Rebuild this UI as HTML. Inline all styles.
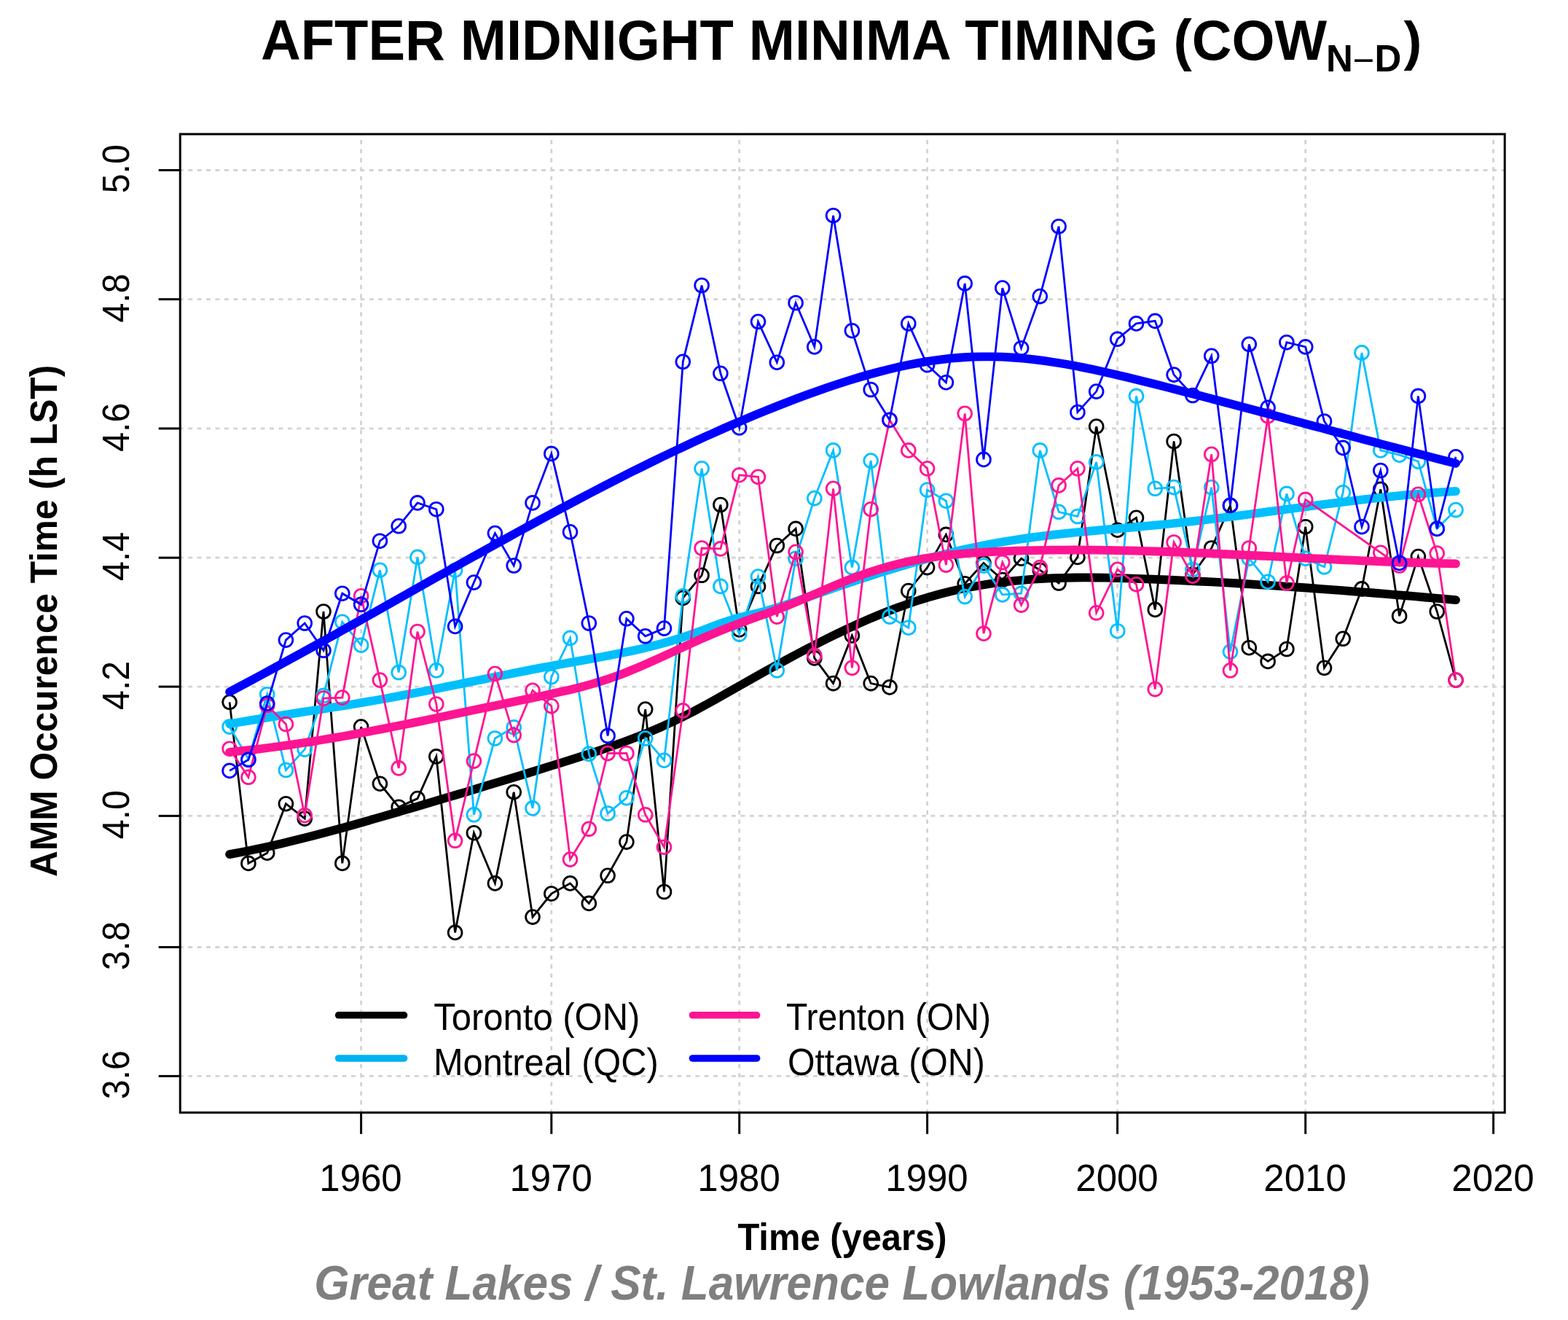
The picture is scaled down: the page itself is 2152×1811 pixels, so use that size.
<!DOCTYPE html><html><head><meta charset="utf-8"><title>After Midnight Minima Timing</title>
<style>html,body{margin:0;padding:0;background:#fff;}svg{display:block;}text{font-family:"Liberation Sans",Arial,sans-serif;}</style></head><body>
<svg width="2152" height="1811" viewBox="0 0 2152 1811">
<rect width="2152" height="1811" fill="#fff"/>
<g stroke="#d3d3d3" stroke-width="2.8" stroke-dasharray="5.9 6.53" fill="none">
<line x1="245.8" y1="1476.4" x2="2065.2" y2="1476.4"/>
<line x1="245.8" y1="1299.5" x2="2065.2" y2="1299.5"/>
<line x1="245.8" y1="1119.4" x2="2065.2" y2="1119.4"/>
<line x1="245.8" y1="942.1" x2="2065.2" y2="942.1"/>
<line x1="245.8" y1="765.2" x2="2065.2" y2="765.2"/>
<line x1="245.8" y1="587.9" x2="2065.2" y2="587.9"/>
<line x1="245.8" y1="410.6" x2="2065.2" y2="410.6"/>
<line x1="245.8" y1="233.5" x2="2065.2" y2="233.5"/>
<line x1="495.6" y1="1527.9" x2="495.6" y2="184.0"/>
<line x1="756.8" y1="1527.9" x2="756.8" y2="184.0"/>
<line x1="1014.7" y1="1527.9" x2="1014.7" y2="184.0"/>
<line x1="1272.6" y1="1527.9" x2="1272.6" y2="184.0"/>
<line x1="1533.6" y1="1527.9" x2="1533.6" y2="184.0"/>
<line x1="1791.7" y1="1527.9" x2="1791.7" y2="184.0"/>
<line x1="2049.6" y1="1527.9" x2="2049.6" y2="184.0"/>
</g>
<g stroke="#000000" stroke-width="2.8" fill="none">
<polyline points="315.1,963.3 340.9,1184.4 366.7,1170.2 392.4,1102.7 418.2,1123.1 444.0,839.0 469.8,1184.4 495.6,997.1 521.4,1075.2 547.2,1107.2 573.0,1095.6 598.8,1037.9 624.6,1279.4 650.4,1142.7 679.4,1211.9 705.2,1086.7 731.0,1258.1 756.8,1226.1 782.5,1211.9 808.3,1239.4 834.1,1201.3 859.9,1155.1 885.7,973.1 911.5,1223.5 937.3,820.4 963.1,789.3 988.9,692.5 1014.7,863.9 1040.5,804.4 1066.3,748.5 1092.1,725.4 1117.8,902.9 1143.6,937.6 1169.4,871.9 1195.2,937.6 1221.0,942.9 1246.8,810.6 1272.6,778.6 1298.4,733.4 1324.2,800.8 1350.0,772.4 1375.8,795.5 1401.6,766.2 1427.3,782.2 1453.1,800.0 1478.9,764.4 1504.7,585.1 1533.7,727.2 1559.5,710.3 1585.3,836.4 1611.1,605.5 1636.9,788.4 1662.7,752.0 1688.5,693.4 1714.3,888.7 1740.1,907.4 1765.9,890.5 1791.7,722.7 1817.5,916.3 1843.2,876.3 1869.0,807.9 1894.8,671.2 1920.6,845.2 1946.4,763.6 1972.2,839.0 1998.0,933.1"/>
<circle cx="315.1" cy="963.3" r="9.4"/>
<circle cx="340.9" cy="1184.4" r="9.4"/>
<circle cx="366.7" cy="1170.2" r="9.4"/>
<circle cx="392.4" cy="1102.7" r="9.4"/>
<circle cx="418.2" cy="1123.1" r="9.4"/>
<circle cx="444.0" cy="839.0" r="9.4"/>
<circle cx="469.8" cy="1184.4" r="9.4"/>
<circle cx="495.6" cy="997.1" r="9.4"/>
<circle cx="521.4" cy="1075.2" r="9.4"/>
<circle cx="547.2" cy="1107.2" r="9.4"/>
<circle cx="573.0" cy="1095.6" r="9.4"/>
<circle cx="598.8" cy="1037.9" r="9.4"/>
<circle cx="624.6" cy="1279.4" r="9.4"/>
<circle cx="650.4" cy="1142.7" r="9.4"/>
<circle cx="679.4" cy="1211.9" r="9.4"/>
<circle cx="705.2" cy="1086.7" r="9.4"/>
<circle cx="731.0" cy="1258.1" r="9.4"/>
<circle cx="756.8" cy="1226.1" r="9.4"/>
<circle cx="782.5" cy="1211.9" r="9.4"/>
<circle cx="808.3" cy="1239.4" r="9.4"/>
<circle cx="834.1" cy="1201.3" r="9.4"/>
<circle cx="859.9" cy="1155.1" r="9.4"/>
<circle cx="885.7" cy="973.1" r="9.4"/>
<circle cx="911.5" cy="1223.5" r="9.4"/>
<circle cx="937.3" cy="820.4" r="9.4"/>
<circle cx="963.1" cy="789.3" r="9.4"/>
<circle cx="988.9" cy="692.5" r="9.4"/>
<circle cx="1014.7" cy="863.9" r="9.4"/>
<circle cx="1040.5" cy="804.4" r="9.4"/>
<circle cx="1066.3" cy="748.5" r="9.4"/>
<circle cx="1092.1" cy="725.4" r="9.4"/>
<circle cx="1117.8" cy="902.9" r="9.4"/>
<circle cx="1143.6" cy="937.6" r="9.4"/>
<circle cx="1169.4" cy="871.9" r="9.4"/>
<circle cx="1195.2" cy="937.6" r="9.4"/>
<circle cx="1221.0" cy="942.9" r="9.4"/>
<circle cx="1246.8" cy="810.6" r="9.4"/>
<circle cx="1272.6" cy="778.6" r="9.4"/>
<circle cx="1298.4" cy="733.4" r="9.4"/>
<circle cx="1324.2" cy="800.8" r="9.4"/>
<circle cx="1350.0" cy="772.4" r="9.4"/>
<circle cx="1375.8" cy="795.5" r="9.4"/>
<circle cx="1401.6" cy="766.2" r="9.4"/>
<circle cx="1427.3" cy="782.2" r="9.4"/>
<circle cx="1453.1" cy="800.0" r="9.4"/>
<circle cx="1478.9" cy="764.4" r="9.4"/>
<circle cx="1504.7" cy="585.1" r="9.4"/>
<circle cx="1533.7" cy="727.2" r="9.4"/>
<circle cx="1559.5" cy="710.3" r="9.4"/>
<circle cx="1585.3" cy="836.4" r="9.4"/>
<circle cx="1611.1" cy="605.5" r="9.4"/>
<circle cx="1636.9" cy="788.4" r="9.4"/>
<circle cx="1662.7" cy="752.0" r="9.4"/>
<circle cx="1688.5" cy="693.4" r="9.4"/>
<circle cx="1714.3" cy="888.7" r="9.4"/>
<circle cx="1740.1" cy="907.4" r="9.4"/>
<circle cx="1765.9" cy="890.5" r="9.4"/>
<circle cx="1791.7" cy="722.7" r="9.4"/>
<circle cx="1817.5" cy="916.3" r="9.4"/>
<circle cx="1843.2" cy="876.3" r="9.4"/>
<circle cx="1869.0" cy="807.9" r="9.4"/>
<circle cx="1894.8" cy="671.2" r="9.4"/>
<circle cx="1920.6" cy="845.2" r="9.4"/>
<circle cx="1946.4" cy="763.6" r="9.4"/>
<circle cx="1972.2" cy="839.0" r="9.4"/>
<circle cx="1998.0" cy="933.1" r="9.4"/>
</g>
<path d="M315.1,1172.1 L329.2,1169.5 L343.4,1166.7 L357.5,1163.8 L371.6,1160.7 L385.8,1157.5 L399.9,1154.1 L414.1,1150.6 L428.2,1147.0 L442.3,1143.3 L456.5,1139.5 L470.6,1135.7 L484.8,1131.8 L498.9,1127.8 L513.1,1123.7 L527.2,1119.6 L541.3,1115.5 L555.5,1111.4 L569.6,1107.3 L583.8,1103.1 L597.9,1098.9 L612.1,1094.7 L626.2,1090.5 L640.3,1086.3 L654.5,1082.0 L668.6,1077.7 L682.8,1073.4 L696.9,1069.1 L711.1,1064.8 L725.2,1060.5 L739.3,1056.1 L753.5,1051.7 L767.6,1047.3 L781.8,1042.9 L795.9,1038.4 L810.0,1033.9 L824.2,1029.2 L838.3,1024.3 L852.5,1019.3 L866.6,1014.0 L880.8,1008.5 L894.9,1002.7 L909.0,996.7 L923.2,990.2 L937.3,983.4 L951.5,976.2 L965.6,968.6 L979.8,960.8 L993.9,952.8 L1008.0,944.8 L1022.2,936.8 L1036.3,928.8 L1050.5,920.9 L1064.6,913.1 L1078.7,905.5 L1092.9,897.9 L1107.0,890.4 L1121.2,883.2 L1135.3,876.1 L1149.5,869.1 L1163.6,862.4 L1177.7,855.9 L1191.9,849.7 L1206.0,843.8 L1220.2,838.1 L1234.3,832.7 L1248.5,827.7 L1262.6,823.0 L1276.7,818.7 L1290.9,814.8 L1305.0,811.2 L1319.2,808.0 L1333.3,805.2 L1347.5,802.7 L1361.6,800.5 L1375.7,798.7 L1389.9,797.1 L1404.0,795.8 L1418.2,794.7 L1432.3,793.8 L1446.4,793.2 L1460.6,792.8 L1474.7,792.5 L1488.9,792.4 L1503.0,792.5 L1517.2,792.7 L1531.3,793.0 L1545.4,793.3 L1559.6,793.8 L1573.7,794.3 L1587.9,794.9 L1602.0,795.5 L1616.2,796.1 L1630.3,796.8 L1644.4,797.5 L1658.6,798.2 L1672.7,798.9 L1686.9,799.7 L1701.0,800.5 L1715.2,801.4 L1729.3,802.3 L1743.4,803.2 L1757.6,804.1 L1771.7,805.1 L1785.9,806.0 L1800.0,807.0 L1814.1,808.1 L1828.3,809.1 L1842.4,810.2 L1856.6,811.3 L1870.7,812.4 L1884.9,813.5 L1899.0,814.7 L1913.1,815.9 L1927.3,817.0 L1941.4,818.2 L1955.6,819.5 L1969.7,820.7 L1983.9,821.9 L1998.0,823.2" stroke="#000000" stroke-width="11.8" fill="none" stroke-linecap="round" stroke-linejoin="round"/>
<g stroke="#00bfff" stroke-width="2.8" fill="none">
<polyline points="315.1,997.1 340.9,1041.5 366.7,952.7 392.4,1056.5 418.2,1028.1 444.0,954.4 469.8,853.2 495.6,885.2 521.4,782.2 547.2,922.5 573.0,764.4 598.8,919.8 624.6,782.2 650.4,1117.8 679.4,1013.0 705.2,997.9 731.0,1108.9 756.8,928.7 782.5,875.4 808.3,1034.3 834.1,1116.0 859.9,1094.7 885.7,1013.0 911.5,1043.2 937.3,817.7 963.1,642.8 988.9,804.4 1014.7,870.1 1040.5,791.1 1066.3,919.8 1092.1,766.2 1117.8,683.6 1143.6,617.9 1169.4,778.6 1195.2,632.1 1221.0,846.1 1246.8,861.2 1272.6,672.1 1298.4,687.2 1324.2,818.6 1350.0,776.0 1375.8,815.9 1401.6,814.2 1427.3,617.9 1453.1,702.3 1478.9,708.5 1504.7,633.9 1533.7,865.7 1559.5,543.4 1585.3,670.3 1611.1,668.6 1636.9,781.3 1662.7,668.6 1688.5,894.1 1714.3,766.2 1740.1,798.2 1765.9,677.4 1791.7,766.2 1817.5,777.8 1843.2,675.7 1869.0,483.9 1894.8,617.9 1920.6,624.2 1946.4,633.0 1972.2,725.4 1998.0,699.6"/>
<circle cx="315.1" cy="997.1" r="9.4"/>
<circle cx="340.9" cy="1041.5" r="9.4"/>
<circle cx="366.7" cy="952.7" r="9.4"/>
<circle cx="392.4" cy="1056.5" r="9.4"/>
<circle cx="418.2" cy="1028.1" r="9.4"/>
<circle cx="444.0" cy="954.4" r="9.4"/>
<circle cx="469.8" cy="853.2" r="9.4"/>
<circle cx="495.6" cy="885.2" r="9.4"/>
<circle cx="521.4" cy="782.2" r="9.4"/>
<circle cx="547.2" cy="922.5" r="9.4"/>
<circle cx="573.0" cy="764.4" r="9.4"/>
<circle cx="598.8" cy="919.8" r="9.4"/>
<circle cx="624.6" cy="782.2" r="9.4"/>
<circle cx="650.4" cy="1117.8" r="9.4"/>
<circle cx="679.4" cy="1013.0" r="9.4"/>
<circle cx="705.2" cy="997.9" r="9.4"/>
<circle cx="731.0" cy="1108.9" r="9.4"/>
<circle cx="756.8" cy="928.7" r="9.4"/>
<circle cx="782.5" cy="875.4" r="9.4"/>
<circle cx="808.3" cy="1034.3" r="9.4"/>
<circle cx="834.1" cy="1116.0" r="9.4"/>
<circle cx="859.9" cy="1094.7" r="9.4"/>
<circle cx="885.7" cy="1013.0" r="9.4"/>
<circle cx="911.5" cy="1043.2" r="9.4"/>
<circle cx="937.3" cy="817.7" r="9.4"/>
<circle cx="963.1" cy="642.8" r="9.4"/>
<circle cx="988.9" cy="804.4" r="9.4"/>
<circle cx="1014.7" cy="870.1" r="9.4"/>
<circle cx="1040.5" cy="791.1" r="9.4"/>
<circle cx="1066.3" cy="919.8" r="9.4"/>
<circle cx="1092.1" cy="766.2" r="9.4"/>
<circle cx="1117.8" cy="683.6" r="9.4"/>
<circle cx="1143.6" cy="617.9" r="9.4"/>
<circle cx="1169.4" cy="778.6" r="9.4"/>
<circle cx="1195.2" cy="632.1" r="9.4"/>
<circle cx="1221.0" cy="846.1" r="9.4"/>
<circle cx="1246.8" cy="861.2" r="9.4"/>
<circle cx="1272.6" cy="672.1" r="9.4"/>
<circle cx="1298.4" cy="687.2" r="9.4"/>
<circle cx="1324.2" cy="818.6" r="9.4"/>
<circle cx="1350.0" cy="776.0" r="9.4"/>
<circle cx="1375.8" cy="815.9" r="9.4"/>
<circle cx="1401.6" cy="814.2" r="9.4"/>
<circle cx="1427.3" cy="617.9" r="9.4"/>
<circle cx="1453.1" cy="702.3" r="9.4"/>
<circle cx="1478.9" cy="708.5" r="9.4"/>
<circle cx="1504.7" cy="633.9" r="9.4"/>
<circle cx="1533.7" cy="865.7" r="9.4"/>
<circle cx="1559.5" cy="543.4" r="9.4"/>
<circle cx="1585.3" cy="670.3" r="9.4"/>
<circle cx="1611.1" cy="668.6" r="9.4"/>
<circle cx="1636.9" cy="781.3" r="9.4"/>
<circle cx="1662.7" cy="668.6" r="9.4"/>
<circle cx="1688.5" cy="894.1" r="9.4"/>
<circle cx="1714.3" cy="766.2" r="9.4"/>
<circle cx="1740.1" cy="798.2" r="9.4"/>
<circle cx="1765.9" cy="677.4" r="9.4"/>
<circle cx="1791.7" cy="766.2" r="9.4"/>
<circle cx="1817.5" cy="777.8" r="9.4"/>
<circle cx="1843.2" cy="675.7" r="9.4"/>
<circle cx="1869.0" cy="483.9" r="9.4"/>
<circle cx="1894.8" cy="617.9" r="9.4"/>
<circle cx="1920.6" cy="624.2" r="9.4"/>
<circle cx="1946.4" cy="633.0" r="9.4"/>
<circle cx="1972.2" cy="725.4" r="9.4"/>
<circle cx="1998.0" cy="699.6" r="9.4"/>
</g>
<path d="M315.1,993.3 L329.2,990.8 L343.4,988.4 L357.5,986.1 L371.6,983.8 L385.8,981.6 L399.9,979.4 L414.1,977.2 L428.2,975.0 L442.3,972.8 L456.5,970.5 L470.6,968.3 L484.8,966.0 L498.9,963.6 L513.1,961.2 L527.2,958.7 L541.3,956.1 L555.5,953.4 L569.6,950.7 L583.8,948.0 L597.9,945.2 L612.1,942.3 L626.2,939.5 L640.3,936.6 L654.5,933.7 L668.6,930.9 L682.8,928.0 L696.9,925.2 L711.1,922.4 L725.2,919.6 L739.3,916.9 L753.5,914.3 L767.6,911.7 L781.8,909.1 L795.9,906.6 L810.0,904.1 L824.2,901.5 L838.3,898.8 L852.5,896.0 L866.6,893.1 L880.8,889.9 L894.9,886.4 L909.0,882.7 L923.2,878.7 L937.3,874.3 L951.5,869.4 L965.6,864.2 L979.8,858.7 L993.9,853.5 L1008.0,849.0 L1022.2,845.4 L1036.3,842.0 L1050.5,838.4 L1064.6,834.2 L1078.7,829.7 L1092.9,824.9 L1107.0,819.9 L1121.2,814.9 L1135.3,809.9 L1149.5,805.0 L1163.6,800.2 L1177.7,795.4 L1191.9,790.8 L1206.0,786.2 L1220.2,781.8 L1234.3,777.5 L1248.5,773.3 L1262.6,769.3 L1276.7,765.4 L1290.9,761.7 L1305.0,758.2 L1319.2,754.8 L1333.3,751.7 L1347.5,748.7 L1361.6,746.0 L1375.7,743.5 L1389.9,741.2 L1404.0,739.1 L1418.2,737.2 L1432.3,735.4 L1446.4,733.7 L1460.6,732.2 L1474.7,730.7 L1488.9,729.3 L1503.0,728.0 L1517.2,726.7 L1531.3,725.5 L1545.4,724.3 L1559.6,723.0 L1573.7,721.7 L1587.9,720.4 L1602.0,719.0 L1616.2,717.5 L1630.3,715.9 L1644.4,714.3 L1658.6,712.6 L1672.7,710.9 L1686.9,709.1 L1701.0,707.3 L1715.2,705.5 L1729.3,703.6 L1743.4,701.7 L1757.6,699.8 L1771.7,698.0 L1785.9,696.1 L1800.0,694.2 L1814.1,692.4 L1828.3,690.6 L1842.4,688.8 L1856.6,687.1 L1870.7,685.4 L1884.9,683.8 L1899.0,682.2 L1913.1,680.8 L1927.3,679.4 L1941.4,678.1 L1955.6,676.9 L1969.7,675.8 L1983.9,674.8 L1998.0,674.0" stroke="#00bfff" stroke-width="11.8" fill="none" stroke-linecap="round" stroke-linejoin="round"/>
<g stroke="#ff1493" stroke-width="2.8" fill="none">
<polyline points="315.1,1027.2 340.9,1066.3 366.7,967.8 392.4,993.5 418.2,1118.7 444.0,958.0 469.8,957.1 495.6,817.7 521.4,933.1 547.2,1053.9 573.0,866.5 598.8,966.0 624.6,1153.3 650.4,1044.1 679.4,924.3 705.2,1008.6 731.0,947.3 756.8,968.6 782.5,1179.1 808.3,1137.3 834.1,1033.5 859.9,1033.5 885.7,1117.8 911.5,1162.2 937.3,974.9 963.1,752.0 988.9,752.9 1014.7,651.7 1040.5,654.3 1066.3,846.1 1092.1,757.3 1117.8,899.4 1143.6,670.3 1169.4,916.3 1195.2,698.7 1221.0,576.2 1246.8,617.9 1272.6,642.8 1298.4,775.1 1324.2,567.3 1350.0,869.2 1375.8,771.5 1401.6,830.1 1427.3,778.6 1453.1,665.9 1478.9,642.8 1504.7,840.8 1533.7,781.3 1559.5,801.7 1585.3,945.6 1611.1,744.0 1636.9,790.2 1662.7,623.3 1688.5,919.8 1714.3,752.0 1740.1,570.9 1765.9,800.0 1791.7,685.4 1894.8,758.2 1920.6,776.0 1946.4,678.3 1972.2,759.1 1998.0,933.1"/>
<circle cx="315.1" cy="1027.2" r="9.4"/>
<circle cx="340.9" cy="1066.3" r="9.4"/>
<circle cx="366.7" cy="967.8" r="9.4"/>
<circle cx="392.4" cy="993.5" r="9.4"/>
<circle cx="418.2" cy="1118.7" r="9.4"/>
<circle cx="444.0" cy="958.0" r="9.4"/>
<circle cx="469.8" cy="957.1" r="9.4"/>
<circle cx="495.6" cy="817.7" r="9.4"/>
<circle cx="521.4" cy="933.1" r="9.4"/>
<circle cx="547.2" cy="1053.9" r="9.4"/>
<circle cx="573.0" cy="866.5" r="9.4"/>
<circle cx="598.8" cy="966.0" r="9.4"/>
<circle cx="624.6" cy="1153.3" r="9.4"/>
<circle cx="650.4" cy="1044.1" r="9.4"/>
<circle cx="679.4" cy="924.3" r="9.4"/>
<circle cx="705.2" cy="1008.6" r="9.4"/>
<circle cx="731.0" cy="947.3" r="9.4"/>
<circle cx="756.8" cy="968.6" r="9.4"/>
<circle cx="782.5" cy="1179.1" r="9.4"/>
<circle cx="808.3" cy="1137.3" r="9.4"/>
<circle cx="834.1" cy="1033.5" r="9.4"/>
<circle cx="859.9" cy="1033.5" r="9.4"/>
<circle cx="885.7" cy="1117.8" r="9.4"/>
<circle cx="911.5" cy="1162.2" r="9.4"/>
<circle cx="937.3" cy="974.9" r="9.4"/>
<circle cx="963.1" cy="752.0" r="9.4"/>
<circle cx="988.9" cy="752.9" r="9.4"/>
<circle cx="1014.7" cy="651.7" r="9.4"/>
<circle cx="1040.5" cy="654.3" r="9.4"/>
<circle cx="1066.3" cy="846.1" r="9.4"/>
<circle cx="1092.1" cy="757.3" r="9.4"/>
<circle cx="1117.8" cy="899.4" r="9.4"/>
<circle cx="1143.6" cy="670.3" r="9.4"/>
<circle cx="1169.4" cy="916.3" r="9.4"/>
<circle cx="1195.2" cy="698.7" r="9.4"/>
<circle cx="1221.0" cy="576.2" r="9.4"/>
<circle cx="1246.8" cy="617.9" r="9.4"/>
<circle cx="1272.6" cy="642.8" r="9.4"/>
<circle cx="1298.4" cy="775.1" r="9.4"/>
<circle cx="1324.2" cy="567.3" r="9.4"/>
<circle cx="1350.0" cy="869.2" r="9.4"/>
<circle cx="1375.8" cy="771.5" r="9.4"/>
<circle cx="1401.6" cy="830.1" r="9.4"/>
<circle cx="1427.3" cy="778.6" r="9.4"/>
<circle cx="1453.1" cy="665.9" r="9.4"/>
<circle cx="1478.9" cy="642.8" r="9.4"/>
<circle cx="1504.7" cy="840.8" r="9.4"/>
<circle cx="1533.7" cy="781.3" r="9.4"/>
<circle cx="1559.5" cy="801.7" r="9.4"/>
<circle cx="1585.3" cy="945.6" r="9.4"/>
<circle cx="1611.1" cy="744.0" r="9.4"/>
<circle cx="1636.9" cy="790.2" r="9.4"/>
<circle cx="1662.7" cy="623.3" r="9.4"/>
<circle cx="1688.5" cy="919.8" r="9.4"/>
<circle cx="1714.3" cy="752.0" r="9.4"/>
<circle cx="1740.1" cy="570.9" r="9.4"/>
<circle cx="1765.9" cy="800.0" r="9.4"/>
<circle cx="1791.7" cy="685.4" r="9.4"/>
<circle cx="1894.8" cy="758.2" r="9.4"/>
<circle cx="1920.6" cy="776.0" r="9.4"/>
<circle cx="1946.4" cy="678.3" r="9.4"/>
<circle cx="1972.2" cy="759.1" r="9.4"/>
<circle cx="1998.0" cy="933.1" r="9.4"/>
</g>
<path d="M315.1,1031.8 L329.2,1030.4 L343.4,1028.9 L357.5,1027.3 L371.6,1025.5 L385.8,1023.6 L399.9,1021.6 L414.1,1019.5 L428.2,1017.3 L442.3,1015.0 L456.5,1012.6 L470.6,1010.2 L484.8,1007.6 L498.9,1005.0 L513.1,1002.3 L527.2,999.6 L541.3,996.8 L555.5,994.0 L569.6,991.1 L583.8,988.2 L597.9,985.2 L612.1,982.3 L626.2,979.3 L640.3,976.3 L654.5,973.3 L668.6,970.4 L682.8,967.4 L696.9,964.4 L711.1,961.5 L725.2,958.6 L739.3,955.7 L753.5,952.7 L767.6,949.6 L781.8,946.4 L795.9,942.9 L810.0,939.1 L824.2,934.9 L838.3,930.3 L852.5,925.2 L866.6,919.6 L880.8,913.6 L894.9,907.4 L909.0,901.0 L923.2,894.5 L937.3,888.0 L951.5,881.5 L965.6,875.2 L979.8,869.1 L993.9,863.3 L1008.0,857.7 L1022.2,852.4 L1036.3,847.3 L1050.5,842.2 L1064.6,837.0 L1078.7,831.7 L1092.9,825.9 L1107.0,819.9 L1121.2,813.8 L1135.3,807.6 L1149.5,801.6 L1163.6,795.9 L1177.7,790.5 L1191.9,785.6 L1206.0,781.1 L1220.2,777.0 L1234.3,773.3 L1248.5,770.1 L1262.6,767.3 L1276.7,765.0 L1290.9,762.9 L1305.0,761.2 L1319.2,759.8 L1333.3,758.7 L1347.5,757.8 L1361.6,757.0 L1375.7,756.4 L1389.9,755.9 L1404.0,755.4 L1418.2,755.1 L1432.3,754.8 L1446.4,754.7 L1460.6,754.6 L1474.7,754.5 L1488.9,754.6 L1503.0,754.7 L1517.2,754.8 L1531.3,755.1 L1545.4,755.4 L1559.6,755.7 L1573.7,756.1 L1587.9,756.5 L1602.0,757.0 L1616.2,757.5 L1630.3,758.0 L1644.4,758.6 L1658.6,759.2 L1672.7,759.8 L1686.9,760.5 L1701.0,761.2 L1715.2,761.8 L1729.3,762.5 L1743.4,763.2 L1757.6,763.9 L1771.7,764.6 L1785.9,765.4 L1800.0,766.1 L1814.1,766.7 L1828.3,767.4 L1842.4,768.1 L1856.6,768.7 L1870.7,769.3 L1884.9,769.9 L1899.0,770.5 L1913.1,771.0 L1927.3,771.5 L1941.4,772.0 L1955.6,772.4 L1969.7,772.8 L1983.9,773.1 L1998.0,773.4" stroke="#ff1493" stroke-width="11.8" fill="none" stroke-linecap="round" stroke-linejoin="round"/>
<g stroke="#0000ff" stroke-width="2.8" fill="none">
<polyline points="315.1,1057.4 340.9,1042.3 366.7,965.1 392.4,878.1 418.2,855.0 444.0,892.3 469.8,814.2 495.6,829.3 521.4,742.2 547.2,721.8 573.0,689.9 598.8,698.7 624.6,859.4 650.4,799.1 679.4,731.6 705.2,776.0 731.0,689.9 756.8,622.4 782.5,729.8 808.3,855.0 834.1,1009.5 859.9,848.8 885.7,872.8 911.5,862.1 937.3,496.3 963.1,391.5 988.9,512.3 1014.7,586.9 1040.5,441.3 1066.3,497.2 1092.1,415.5 1117.8,475.9 1143.6,295.7 1169.4,453.7 1195.2,534.5 1221.0,576.2 1246.8,443.9 1272.6,500.7 1298.4,524.7 1324.2,388.9 1350.0,630.4 1375.8,395.1 1401.6,477.7 1427.3,406.6 1453.1,310.7 1478.9,565.6 1504.7,537.1 1533.7,465.2 1559.5,443.9 1585.3,440.4 1611.1,514.1 1636.9,542.5 1662.7,488.3 1688.5,693.4 1714.3,472.3 1740.1,559.3 1765.9,469.7 1791.7,475.9 1817.5,578.0 1843.2,614.4 1869.0,722.7 1894.8,645.5 1920.6,772.4 1946.4,543.4 1972.2,725.4 1998.0,626.8"/>
<circle cx="315.1" cy="1057.4" r="9.4"/>
<circle cx="340.9" cy="1042.3" r="9.4"/>
<circle cx="366.7" cy="965.1" r="9.4"/>
<circle cx="392.4" cy="878.1" r="9.4"/>
<circle cx="418.2" cy="855.0" r="9.4"/>
<circle cx="444.0" cy="892.3" r="9.4"/>
<circle cx="469.8" cy="814.2" r="9.4"/>
<circle cx="495.6" cy="829.3" r="9.4"/>
<circle cx="521.4" cy="742.2" r="9.4"/>
<circle cx="547.2" cy="721.8" r="9.4"/>
<circle cx="573.0" cy="689.9" r="9.4"/>
<circle cx="598.8" cy="698.7" r="9.4"/>
<circle cx="624.6" cy="859.4" r="9.4"/>
<circle cx="650.4" cy="799.1" r="9.4"/>
<circle cx="679.4" cy="731.6" r="9.4"/>
<circle cx="705.2" cy="776.0" r="9.4"/>
<circle cx="731.0" cy="689.9" r="9.4"/>
<circle cx="756.8" cy="622.4" r="9.4"/>
<circle cx="782.5" cy="729.8" r="9.4"/>
<circle cx="808.3" cy="855.0" r="9.4"/>
<circle cx="834.1" cy="1009.5" r="9.4"/>
<circle cx="859.9" cy="848.8" r="9.4"/>
<circle cx="885.7" cy="872.8" r="9.4"/>
<circle cx="911.5" cy="862.1" r="9.4"/>
<circle cx="937.3" cy="496.3" r="9.4"/>
<circle cx="963.1" cy="391.5" r="9.4"/>
<circle cx="988.9" cy="512.3" r="9.4"/>
<circle cx="1014.7" cy="586.9" r="9.4"/>
<circle cx="1040.5" cy="441.3" r="9.4"/>
<circle cx="1066.3" cy="497.2" r="9.4"/>
<circle cx="1092.1" cy="415.5" r="9.4"/>
<circle cx="1117.8" cy="475.9" r="9.4"/>
<circle cx="1143.6" cy="295.7" r="9.4"/>
<circle cx="1169.4" cy="453.7" r="9.4"/>
<circle cx="1195.2" cy="534.5" r="9.4"/>
<circle cx="1221.0" cy="576.2" r="9.4"/>
<circle cx="1246.8" cy="443.9" r="9.4"/>
<circle cx="1272.6" cy="500.7" r="9.4"/>
<circle cx="1298.4" cy="524.7" r="9.4"/>
<circle cx="1324.2" cy="388.9" r="9.4"/>
<circle cx="1350.0" cy="630.4" r="9.4"/>
<circle cx="1375.8" cy="395.1" r="9.4"/>
<circle cx="1401.6" cy="477.7" r="9.4"/>
<circle cx="1427.3" cy="406.6" r="9.4"/>
<circle cx="1453.1" cy="310.7" r="9.4"/>
<circle cx="1478.9" cy="565.6" r="9.4"/>
<circle cx="1504.7" cy="537.1" r="9.4"/>
<circle cx="1533.7" cy="465.2" r="9.4"/>
<circle cx="1559.5" cy="443.9" r="9.4"/>
<circle cx="1585.3" cy="440.4" r="9.4"/>
<circle cx="1611.1" cy="514.1" r="9.4"/>
<circle cx="1636.9" cy="542.5" r="9.4"/>
<circle cx="1662.7" cy="488.3" r="9.4"/>
<circle cx="1688.5" cy="693.4" r="9.4"/>
<circle cx="1714.3" cy="472.3" r="9.4"/>
<circle cx="1740.1" cy="559.3" r="9.4"/>
<circle cx="1765.9" cy="469.7" r="9.4"/>
<circle cx="1791.7" cy="475.9" r="9.4"/>
<circle cx="1817.5" cy="578.0" r="9.4"/>
<circle cx="1843.2" cy="614.4" r="9.4"/>
<circle cx="1869.0" cy="722.7" r="9.4"/>
<circle cx="1894.8" cy="645.5" r="9.4"/>
<circle cx="1920.6" cy="772.4" r="9.4"/>
<circle cx="1946.4" cy="543.4" r="9.4"/>
<circle cx="1972.2" cy="725.4" r="9.4"/>
<circle cx="1998.0" cy="626.8" r="9.4"/>
</g>
<path d="M315.1,949.2 L329.2,941.7 L343.4,934.2 L357.5,926.6 L371.6,919.0 L385.8,911.3 L399.9,903.5 L414.1,895.8 L428.2,888.0 L442.3,880.1 L456.5,872.3 L470.6,864.4 L484.8,856.5 L498.9,848.5 L513.1,840.6 L527.2,832.6 L541.3,824.6 L555.5,816.7 L569.6,808.7 L583.8,800.7 L597.9,792.7 L612.1,784.8 L626.2,776.8 L640.3,768.9 L654.5,761.0 L668.6,753.1 L682.8,745.3 L696.9,737.5 L711.1,729.7 L725.2,722.0 L739.3,714.3 L753.5,706.6 L767.6,699.0 L781.8,691.5 L795.9,684.0 L810.0,676.6 L824.2,669.3 L838.3,662.0 L852.5,654.8 L866.6,647.6 L880.8,640.6 L894.9,633.6 L909.0,626.7 L923.2,620.0 L937.3,613.3 L951.5,606.7 L965.6,600.2 L979.8,593.8 L993.9,587.5 L1008.0,581.4 L1022.2,575.4 L1036.3,569.4 L1050.5,563.6 L1064.6,558.0 L1078.7,552.5 L1092.9,547.1 L1107.0,541.8 L1121.2,536.7 L1135.3,531.8 L1149.5,527.0 L1163.6,522.5 L1177.7,518.1 L1191.9,514.0 L1206.0,510.2 L1220.2,506.6 L1234.3,503.3 L1248.5,500.3 L1262.6,497.6 L1276.7,495.3 L1290.9,493.3 L1305.0,491.7 L1319.2,490.5 L1333.3,489.6 L1347.5,489.3 L1361.6,489.3 L1375.7,489.7 L1389.9,490.5 L1404.0,491.7 L1418.2,493.1 L1432.3,494.9 L1446.4,497.0 L1460.6,499.3 L1474.7,501.8 L1488.9,504.6 L1503.0,507.6 L1517.2,510.7 L1531.3,513.9 L1545.4,517.3 L1559.6,520.7 L1573.7,524.2 L1587.9,527.8 L1602.0,531.4 L1616.2,535.0 L1630.3,538.7 L1644.4,542.3 L1658.6,546.0 L1672.7,549.7 L1686.9,553.5 L1701.0,557.2 L1715.2,561.0 L1729.3,564.7 L1743.4,568.5 L1757.6,572.3 L1771.7,576.1 L1785.9,579.9 L1800.0,583.7 L1814.1,587.4 L1828.3,591.2 L1842.4,595.0 L1856.6,598.8 L1870.7,602.6 L1884.9,606.3 L1899.0,610.1 L1913.1,613.8 L1927.3,617.5 L1941.4,621.2 L1955.6,624.9 L1969.7,628.6 L1983.9,632.2 L1998.0,635.8" stroke="#0000ff" stroke-width="11.8" fill="none" stroke-linecap="round" stroke-linejoin="round"/>
<rect x="247.25" y="184.00" width="1817.95" height="1342.40" fill="none" stroke="#000" stroke-width="3"/>
<g stroke="#000" stroke-width="3">
<line x1="217.7" y1="1476.4" x2="247.2" y2="1476.4"/>
<line x1="217.7" y1="1299.5" x2="247.2" y2="1299.5"/>
<line x1="217.7" y1="1119.4" x2="247.2" y2="1119.4"/>
<line x1="217.7" y1="942.1" x2="247.2" y2="942.1"/>
<line x1="217.7" y1="765.2" x2="247.2" y2="765.2"/>
<line x1="217.7" y1="587.9" x2="247.2" y2="587.9"/>
<line x1="217.7" y1="410.6" x2="247.2" y2="410.6"/>
<line x1="217.7" y1="233.5" x2="247.2" y2="233.5"/>
<line x1="495.6" y1="1526.4" x2="495.6" y2="1555.8"/>
<line x1="756.8" y1="1526.4" x2="756.8" y2="1555.8"/>
<line x1="1014.7" y1="1526.4" x2="1014.7" y2="1555.8"/>
<line x1="1272.6" y1="1526.4" x2="1272.6" y2="1555.8"/>
<line x1="1533.6" y1="1526.4" x2="1533.6" y2="1555.8"/>
<line x1="1791.7" y1="1526.4" x2="1791.7" y2="1555.8"/>
<line x1="2049.6" y1="1526.4" x2="2049.6" y2="1555.8"/>
</g>
<g font-size="51" fill="#000" text-anchor="middle">
<text x="495.0" y="1633.7">1960</text>
<text x="756.2" y="1633.7">1970</text>
<text x="1014.1" y="1633.7">1980</text>
<text x="1272.0" y="1633.7">1990</text>
<text x="1533.0" y="1633.7">2000</text>
<text x="1791.1" y="1633.7">2010</text>
<text x="2049.0" y="1633.7">2020</text>
</g>
<g font-size="51" fill="#000" text-anchor="middle">
<text transform="translate(177.3,1474.7) rotate(-90)" x="0" y="0" textLength="67" lengthAdjust="spacingAndGlyphs">3.6</text>
<text transform="translate(177.3,1297.8) rotate(-90)" x="0" y="0" textLength="67" lengthAdjust="spacingAndGlyphs">3.8</text>
<text transform="translate(177.3,1117.7) rotate(-90)" x="0" y="0" textLength="67" lengthAdjust="spacingAndGlyphs">4.0</text>
<text transform="translate(177.3,940.4) rotate(-90)" x="0" y="0" textLength="67" lengthAdjust="spacingAndGlyphs">4.2</text>
<text transform="translate(177.3,763.5) rotate(-90)" x="0" y="0" textLength="67" lengthAdjust="spacingAndGlyphs">4.4</text>
<text transform="translate(177.3,586.2) rotate(-90)" x="0" y="0" textLength="67" lengthAdjust="spacingAndGlyphs">4.6</text>
<text transform="translate(177.3,408.9) rotate(-90)" x="0" y="0" textLength="67" lengthAdjust="spacingAndGlyphs">4.8</text>
<text transform="translate(177.3,231.8) rotate(-90)" x="0" y="0" textLength="67" lengthAdjust="spacingAndGlyphs">5.0</text>
</g>
<text font-size="52.5" font-weight="bold" transform="translate(77.6,1202.9) rotate(-90)" x="0" y="0" textLength="702.1" lengthAdjust="spacingAndGlyphs">AMM Occurence Time (h LST)</text>
<text font-size="52.5" font-weight="bold" x="1012.4" y="1714.7" textLength="287.1" lengthAdjust="spacingAndGlyphs">Time (years)</text>
<text font-size="67" font-weight="bold" font-style="italic" fill="#7f7f7f" x="431.2" y="1782.6" textLength="1448.6" lengthAdjust="spacingAndGlyphs">Great Lakes / St. Lawrence Lowlands (1953-2018)</text>
<text font-size="77" font-weight="bold" x="358" y="82.4" textLength="1463.2" lengthAdjust="spacingAndGlyphs">AFTER MIDNIGHT MINIMA TIMING (COW</text>
<text font-size="51" font-weight="bold" x="1819.9" y="97.7">N<tspan font-weight="normal" dy="2.5">−</tspan><tspan dy="-2.5">D</tspan></text>
<text font-size="75" font-weight="bold" x="1926.5" y="82.4">)</text>
<line x1="464.6" y1="1392.8" x2="554.6" y2="1392.8" stroke="#000000" stroke-width="9.5" stroke-linecap="round"/>
<text font-size="52.5" x="595.3" y="1412.7" textLength="283.1" lengthAdjust="spacingAndGlyphs">Toronto (ON)</text>
<line x1="464.6" y1="1451.9" x2="554.6" y2="1451.9" stroke="#00b2ee" stroke-width="9.5" stroke-linecap="round"/>
<text font-size="52.5" x="595.0" y="1474.5" textLength="308.7" lengthAdjust="spacingAndGlyphs">Montreal (QC)</text>
<line x1="950.4" y1="1392.8" x2="1038.7" y2="1392.8" stroke="#ff1493" stroke-width="9.5" stroke-linecap="round"/>
<text font-size="52.5" x="1078.9" y="1412.7" textLength="281.1" lengthAdjust="spacingAndGlyphs">Trenton (ON)</text>
<line x1="950.4" y1="1451.9" x2="1038.7" y2="1451.9" stroke="#0000ff" stroke-width="9.5" stroke-linecap="round"/>
<text font-size="52.5" x="1080.9" y="1474.5" textLength="270.9" lengthAdjust="spacingAndGlyphs">Ottawa (ON)</text>
</svg></body></html>
